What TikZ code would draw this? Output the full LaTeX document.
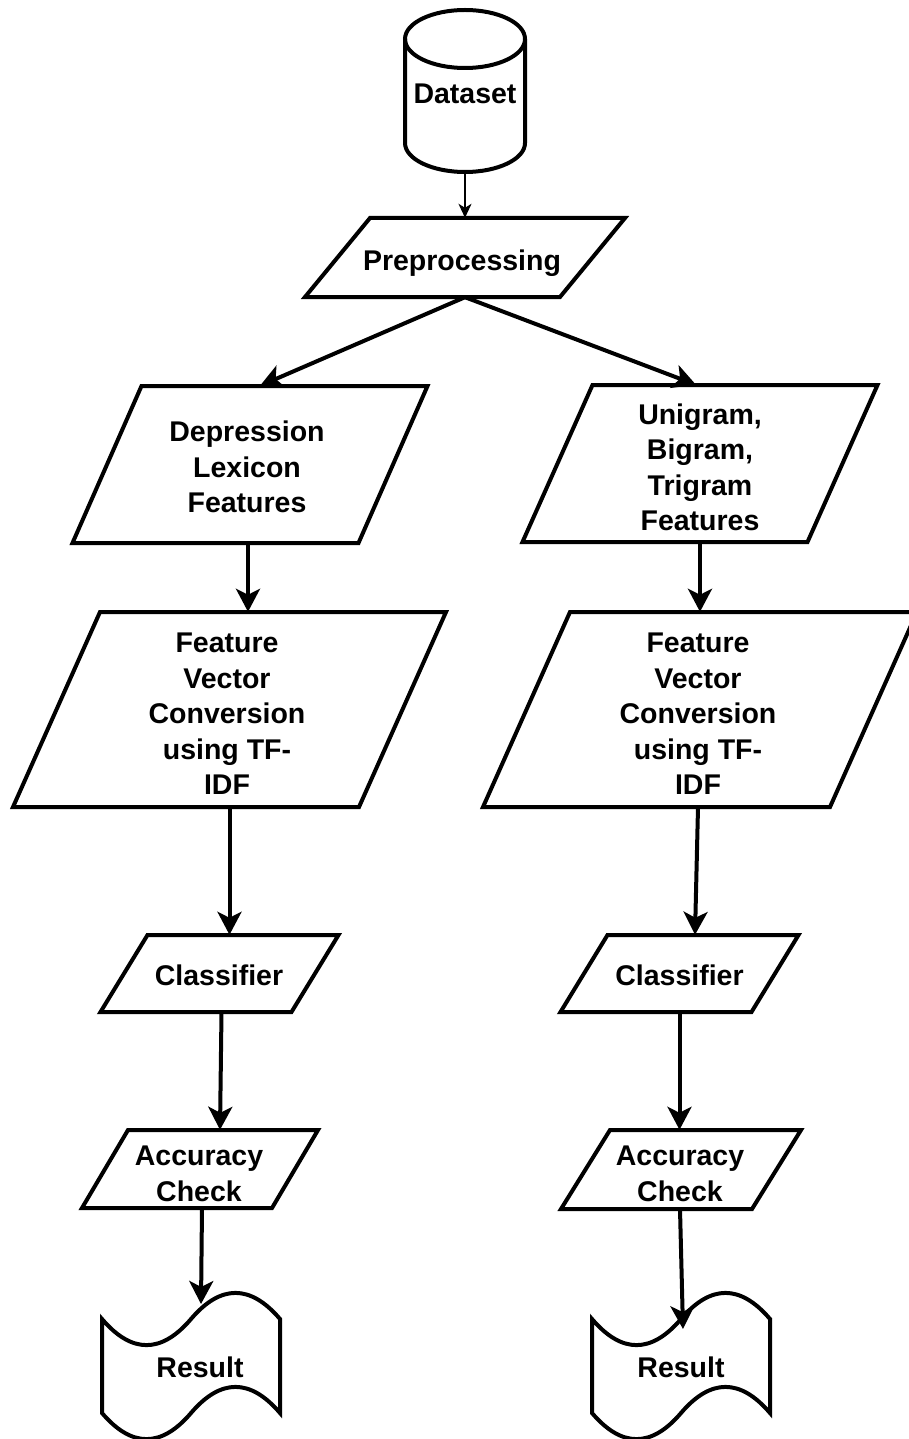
\documentclass[tikz,border=0pt]{standalone}
\usepackage{fontspec}
\setmainfont{Liberation Sans}
\usetikzlibrary{arrows.meta,calc}

\tikzset{
  lbl/.style={font=\bfseries\fontsize{28.5}{35.5}\selectfont, align=center, inner sep=0pt},
  frame/.style={inner sep=0pt, draw=none},
  boxline/.style={line width=4pt, line join=miter},
  arrowline/.style={line width=4pt, -{Stealth[length=23pt,width=24pt,inset=6pt]}},
  thinarrow/.style={line width=1.5pt, -{Stealth[length=14pt,width=13pt,inset=4pt]}},
}

% parallelogram box: name, centre x, centre y, width, height, slant,
% label x, label y, label
\newcommand\flowpara[9]{%
  \draw[boxline] ({#2-#4/2+#6/2},{#3-#5/2}) -- ({#2+#4/2+#6/2},{#3-#5/2})
     -- ({#2+#4/2-#6/2},{#3+#5/2}) -- ({#2-#4/2-#6/2},{#3+#5/2}) -- cycle;
  \node[frame, minimum width=#4pt, minimum height=#5pt] (#1) at (#2,#3) {};
  \node[lbl] (#1txt) at (#7,#8) {#9};
}

% punched-tape outline: left, top, bottom, width
\newcommand\tapeshape[4]{%
  \draw[boxline] (#1,{#2+29})
    .. controls ({#1+#4/6},{#2+63.8}) and ({#1+#4/3},{#2+63.8}) .. ({#1+#4/2},{#2+29})
    .. controls ({#1+2*#4/3},{#2-5.8}) and ({#1+5*#4/6},{#2-5.8}) .. ({#1+#4},{#2+29})
    -- ({#1+#4},{#3-29})
    .. controls ({#1+5*#4/6},{#3-63.8}) and ({#1+2*#4/3},{#3-63.8}) .. ({#1+#4/2},{#3-29})
    .. controls ({#1+#4/3},{#3+5.8}) and ({#1+#4/6},{#3+5.8}) .. (#1,{#3-29})
    -- cycle;
}

\begin{document}
\begin{tikzpicture}[x=1pt, y=-1pt]
  \fill[white] (0,0) rectangle (908,1439);
  \useasboundingbox (0,0) rectangle (908,1439);

  % database cylinder
  \draw[boxline] (465,39) ellipse [x radius=60, y radius=29];
  \draw[boxline] (405,39) -- (405,143)
    .. controls (405,159) and (431.9,172) .. (465,172)
    .. controls (498.1,172) and (525,159) .. (525,143) -- (525,39);
  \node[frame, minimum width=120pt, minimum height=162pt] (db) at (465,91) {};
  \node[lbl] (dbtxt) at (465,94) {Dataset};

  \flowpara{pre}{465}{257.5}{255}{79}{65}{462}{263.5}{Preprocessing}
  \flowpara{dep}{250}{464.5}{286}{157}{69}{247}{467}{Depression\\Lexicon\\Features}
  \flowpara{uni}{700}{463.5}{285}{157}{70}{700}{467.5}{Unigram,\\Bigram,\\Trigram\\Features}
  \flowpara{fvL}{229.5}{709.5}{346}{195}{87}{227}{714}{Feature\\Vector\\Conversion\\using TF-\\IDF}
  \flowpara{fvR}{700}{709.5}{347}{195}{87}{698}{714}{Feature\\Vector\\Conversion\\using TF-\\IDF}
  \flowpara{clL}{219.5}{973.5}{191}{77}{47}{219}{975.5}{Classifier}
  \flowpara{clR}{679.5}{973.5}{191}{77}{47}{679.5}{975.5}{Classifier}
  \flowpara{acL}{200}{1169}{190}{78}{46}{199}{1174}{Accuracy\\Check}
  \flowpara{acR}{681}{1169.5}{191}{79}{49}{680}{1174}{Accuracy\\Check}

  % result documents
  \tapeshape{102}{1290}{1442}{178}
  \node[lbl] (resL) at (200,1367) {Result};
  \tapeshape{592}{1290}{1442}{178}
  \node[lbl] (resR) at (681,1367) {Result};
  \coordinate (resLin) at (201,1304);
  \coordinate (resRin) at (683,1329);

  % connectors
  \draw[thinarrow] (db.south) -- (pre.north);
  \draw[arrowline] (pre.south) -- ($(dep.north)+(10,0)$);
  \draw[arrowline] (pre.south) -- ($(uni.north)+(-4,0)$);
  \draw[arrowline] ($(dep.south)+(-2,0)$) -- ($(dep.south |- fvL.north)+(-2,0)$);
  \draw[arrowline] (uni.south) -- (uni.south |- fvR.north);
  \draw[arrowline] (fvL.south) -- (fvL.south |- clL.north);
  \draw[arrowline] ($(fvR.south)+(-2,0)$) -- ($(clR.north)+(15.5,0)$);
  \draw[arrowline] ($(clL.south)+(2,0)$) -- ($(acL.north)+(20,0)$);
  \draw[arrowline] (clR.south) -- (clR.south |- acR.north);
  \draw[arrowline] ($(acL.south)+(2,0)$) -- (resLin);
  \draw[arrowline] ($(acR.south)+(-1,0)$) -- (resRin);
\end{tikzpicture}
\end{document}
